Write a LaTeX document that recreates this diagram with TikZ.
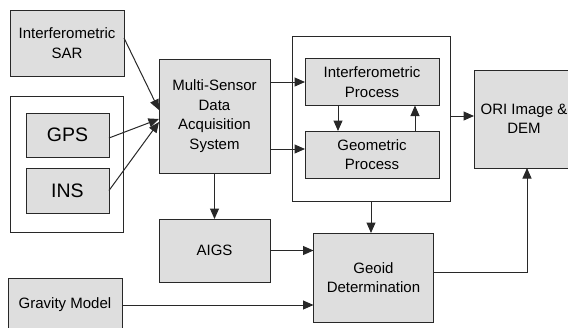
\documentclass[tikz,border=0pt]{standalone}
\usepackage{fontspec}
\setmainfont{Liberation Sans}
\usetikzlibrary{arrows.meta,calc}
\definecolor{boxfill}{RGB}{222,222,222}
\definecolor{edge}{RGB}{40,40,40}
\begin{document}
\begin{tikzpicture}[x=1pt,y=-1pt,
  box/.style={draw=edge,line width=1pt,fill=boxfill,inner sep=0pt,outer sep=0pt,align=center,
    font=\fontsize{15}{19.5}\selectfont},
  bigbox/.style={box,font=\fontsize{19.5}{22}\selectfont},
  frame/.style={draw=edge,line width=1pt,fill=none,inner sep=0pt,outer sep=0pt},
  arr/.style={draw=edge,line width=1pt,-{Triangle[length=10.5pt,width=9pt]}},
  line/.style={draw=edge,line width=1pt}]
\useasboundingbox (0,0) rectangle (568,327);
\clip (0,0) rectangle (568,327);
\node[box,minimum width=114pt,minimum height=66pt] (sar) at (67,43) {Interferometric\\SAR};
\node[frame,minimum width=113pt,minimum height=136pt] (grp) at (66.5,164) {};
\node[bigbox,minimum width=83pt,minimum height=44pt] (gps) at (67.5,135) {GPS};
\node[bigbox,minimum width=83pt,minimum height=45pt] (ins) at (67.5,190.5) {INS};
\node[box,minimum width=111pt,minimum height=114pt] (msd) at (214.5,116) {Multi-Sensor\\Data\\Acquisition\\System};
\node[box,minimum width=111pt,minimum height=63pt] (aigs) at (214.5,250.5) {AIGS};
\node[box,minimum width=114pt,minimum height=54pt] (grav) at (65,305) {Gravity Model};
\node[frame,minimum width=158pt,minimum height=165pt] (proc) at (371,118.5) {};
\node[box,minimum width=134pt,minimum height=47pt] (ip) at (372,82) {Interferometric\\Process};
\node[box,minimum width=134pt,minimum height=47pt] (gp) at (372,154.5) {Geometric\\Process};
\node[box,minimum width=100pt,minimum height=98pt] (ori) at (524,119) {ORI Image \&\\DEM};
\node[box,minimum width=120pt,minimum height=89pt] (geoid) at (373.5,277.5) {Geoid\\Determination};
\coordinate (gpin) at ([yshift=5.5pt]gp.west);
\coordinate (oriin) at ([yshift=3pt]ori.west);
\draw[arr] ([yshift=5pt]sar.east) -- ([yshift=6pt]msd.west);
\draw[arr] ([yshift=-3pt]gps.east) -- ([yshift=-3pt]msd.west);
\draw[arr] (ins.east) -- ([yshift=-6pt]msd.west);
\draw[arr] (msd.east |- ip.west) -- (ip.west);
\draw[arr] (msd.east |- gpin) -- (gpin);
\draw[arr] ([xshift=-34pt]ip.south) -- ([xshift=-34pt]gp.north);
\draw[arr] ([xshift=43pt]gp.north) -- ([xshift=43pt]ip.south);
\draw[arr] (proc.east |- oriin) -- (oriin);
\draw[arr] (msd.south) -- (aigs.north);
\draw[arr] (proc.south) -- (proc.south |- geoid.north);
\draw[arr] (aigs.east) -- (aigs.east -| geoid.west);
\draw[arr] (grav.east) -- (grav.east -| geoid.west);
\draw[arr] ([yshift=5.5pt]geoid.east) -| ([xshift=3pt]ori.south);
\end{tikzpicture}
\end{document}
